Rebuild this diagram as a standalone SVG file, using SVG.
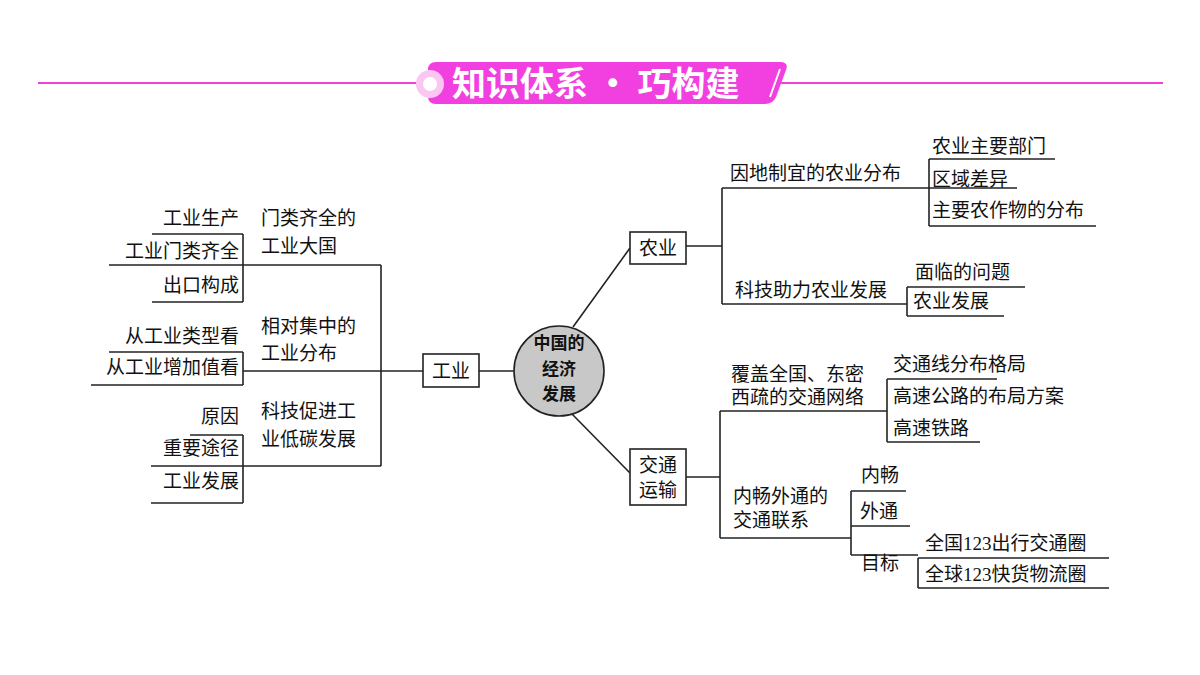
<svg xmlns="http://www.w3.org/2000/svg" width="1200" height="675" viewBox="0 0 1200 675">
<style>
text{font-family:"Liberation Serif","Noto Sans CJK SC",serif;font-size:19px;fill:#111}
.r{text-anchor:end}
.ln{stroke:#222;stroke-width:1.6;fill:none}
.bx{fill:#fff;stroke:#222;stroke-width:1.6}
</style>
<rect width="1200" height="675" fill="#fff"/>
<g id="header">
<line x1="38" y1="83" x2="1163" y2="83" stroke="#f23fd8" stroke-width="2"/>
<path d="M436 62 H780 Q789 62 786 70 L776 97 Q773 104 765 104 H436 Q428 104 428 96 V70 Q428 62 436 62Z" fill="#f23fe0"/>
<line x1="770" y1="97" x2="780" y2="69" stroke="#fff" stroke-width="2"/>
<circle cx="430" cy="84" r="14" fill="#fbc6f1"/>
<circle cx="430" cy="84" r="7" fill="#fff"/>
<text x="452" y="96" style="font-family:'Noto Sans CJK SC',sans-serif;font-size:34px;fill:#fff;font-weight:bold">知识体系 · 巧构建</text>
</g>
<g id="connectors" class="ln">
<line x1="479" y1="371" x2="514" y2="371"/>
<line x1="573" y1="327" x2="630" y2="248"/>
<line x1="572" y1="414" x2="630" y2="473"/>
<polyline points="381,265 381,466"/>
<line x1="109" y1="265" x2="381" y2="265"/>
<line x1="243" y1="371" x2="423" y2="371"/>
<line x1="151" y1="466" x2="381" y2="466"/>
<line x1="243" y1="234" x2="243" y2="302"/>
<line x1="152" y1="234" x2="243" y2="234"/>
<line x1="152" y1="302" x2="243" y2="302"/>
<line x1="243" y1="352" x2="243" y2="385"/>
<line x1="109" y1="352" x2="243" y2="352"/>
<line x1="91" y1="385" x2="243" y2="385"/>
<line x1="243" y1="435" x2="243" y2="503"/>
<line x1="190" y1="435" x2="243" y2="435"/>
<line x1="151" y1="503" x2="243" y2="503"/>
<line x1="686" y1="246" x2="722" y2="246"/>
<line x1="722" y1="188" x2="722" y2="304"/>
<line x1="722" y1="188" x2="929" y2="188"/>
<line x1="929" y1="159" x2="929" y2="226"/>
<line x1="929" y1="159" x2="1055" y2="159"/>
<line x1="929" y1="188" x2="1017" y2="188"/>
<line x1="929" y1="226" x2="1096" y2="226"/>
<line x1="722" y1="304" x2="907" y2="304"/>
<line x1="907" y1="287" x2="907" y2="316"/>
<line x1="907" y1="287" x2="1025" y2="287"/>
<line x1="907" y1="316" x2="1004" y2="316"/>
<line x1="686" y1="477" x2="720" y2="477"/>
<line x1="720" y1="411" x2="720" y2="538"/>
<line x1="720" y1="411" x2="887" y2="411"/>
<line x1="887" y1="379" x2="887" y2="442"/>
<line x1="887" y1="379" x2="997" y2="379"/>
<line x1="887" y1="442" x2="980" y2="442"/>
<line x1="720" y1="538" x2="851" y2="538"/>
<line x1="851" y1="491" x2="851" y2="555"/>
<line x1="851" y1="491" x2="906" y2="491"/>
<line x1="851" y1="526" x2="910" y2="526"/>
<line x1="851" y1="555" x2="918" y2="555"/>
<line x1="918" y1="558" x2="918" y2="588"/>
<line x1="918" y1="558" x2="1109" y2="558"/>
<line x1="918" y1="588" x2="1109" y2="588"/>
</g>
<g id="center">
<circle cx="559" cy="371" r="45" fill="#c8c8c8" stroke="#222" stroke-width="1.6"/>
<text x="559" y="349" text-anchor="middle" style="font-family:'Noto Sans CJK SC',sans-serif;font-size:17px;font-weight:bold">中国的</text>
<text x="559" y="375" text-anchor="middle" style="font-family:'Noto Sans CJK SC',sans-serif;font-size:17px;font-weight:bold">经济</text>
<text x="559" y="400" text-anchor="middle" style="font-family:'Noto Sans CJK SC',sans-serif;font-size:17px;font-weight:bold">发展</text>
</g>
<g id="industry">
<rect class="bx" x="423" y="354" width="56" height="33"/>
<text x="451" y="378" text-anchor="middle">工业</text>
<text x="261" y="225">门类齐全的</text><text x="261" y="253">工业大国</text>
<text class="r" x="239" y="225">工业生产</text>
<text class="r" x="239" y="258">工业门类齐全</text>
<text class="r" x="239" y="292">出口构成</text>
<text x="261" y="333">相对集中的</text><text x="261" y="360">工业分布</text>
<text class="r" x="239" y="343">从工业类型看</text>
<text class="r" x="239" y="374">从工业增加值看</text>
<text x="261" y="418">科技促进工</text><text x="261" y="446">业低碳发展</text>
<text class="r" x="239" y="423">原因</text>
<text class="r" x="239" y="455">重要途径</text>
<text class="r" x="239" y="488">工业发展</text>
</g>
<g id="agriculture">
<rect class="bx" x="630" y="232" width="56" height="32"/>
<text x="658" y="255" text-anchor="middle">农业</text>
<text x="730" y="180">因地制宜的农业分布</text>
<text x="932" y="153">农业主要部门</text>
<text x="932" y="186">区域差异</text>
<text x="932" y="217">主要农作物的分布</text>
<text x="735" y="297">科技助力农业发展</text>
<text x="915" y="279">面临的问题</text>
<text x="913" y="308">农业发展</text>
</g>
<g id="transport">
<rect class="bx" x="630" y="449" width="56" height="56"/>
<text x="658" y="472" text-anchor="middle">交通</text>
<text x="658" y="497" text-anchor="middle">运输</text>
<text x="731" y="381">覆盖全国、东密</text>
<text x="731" y="404">西疏的交通网络</text>
<text x="893" y="371">交通线分布格局</text>
<text x="893" y="403">高速公路的布局方案</text>
<text x="893" y="435">高速铁路</text>
<text x="733" y="503">内畅外通的</text>
<text x="733" y="527">交通联系</text>
<text x="861" y="482">内畅</text>
<text x="860" y="518">外通</text>
<text x="861" y="570">目标</text>
<text x="925" y="550">全国123出行交通圈</text>
<text x="925" y="581">全球123快货物流圈</text>
</g>
</svg>
